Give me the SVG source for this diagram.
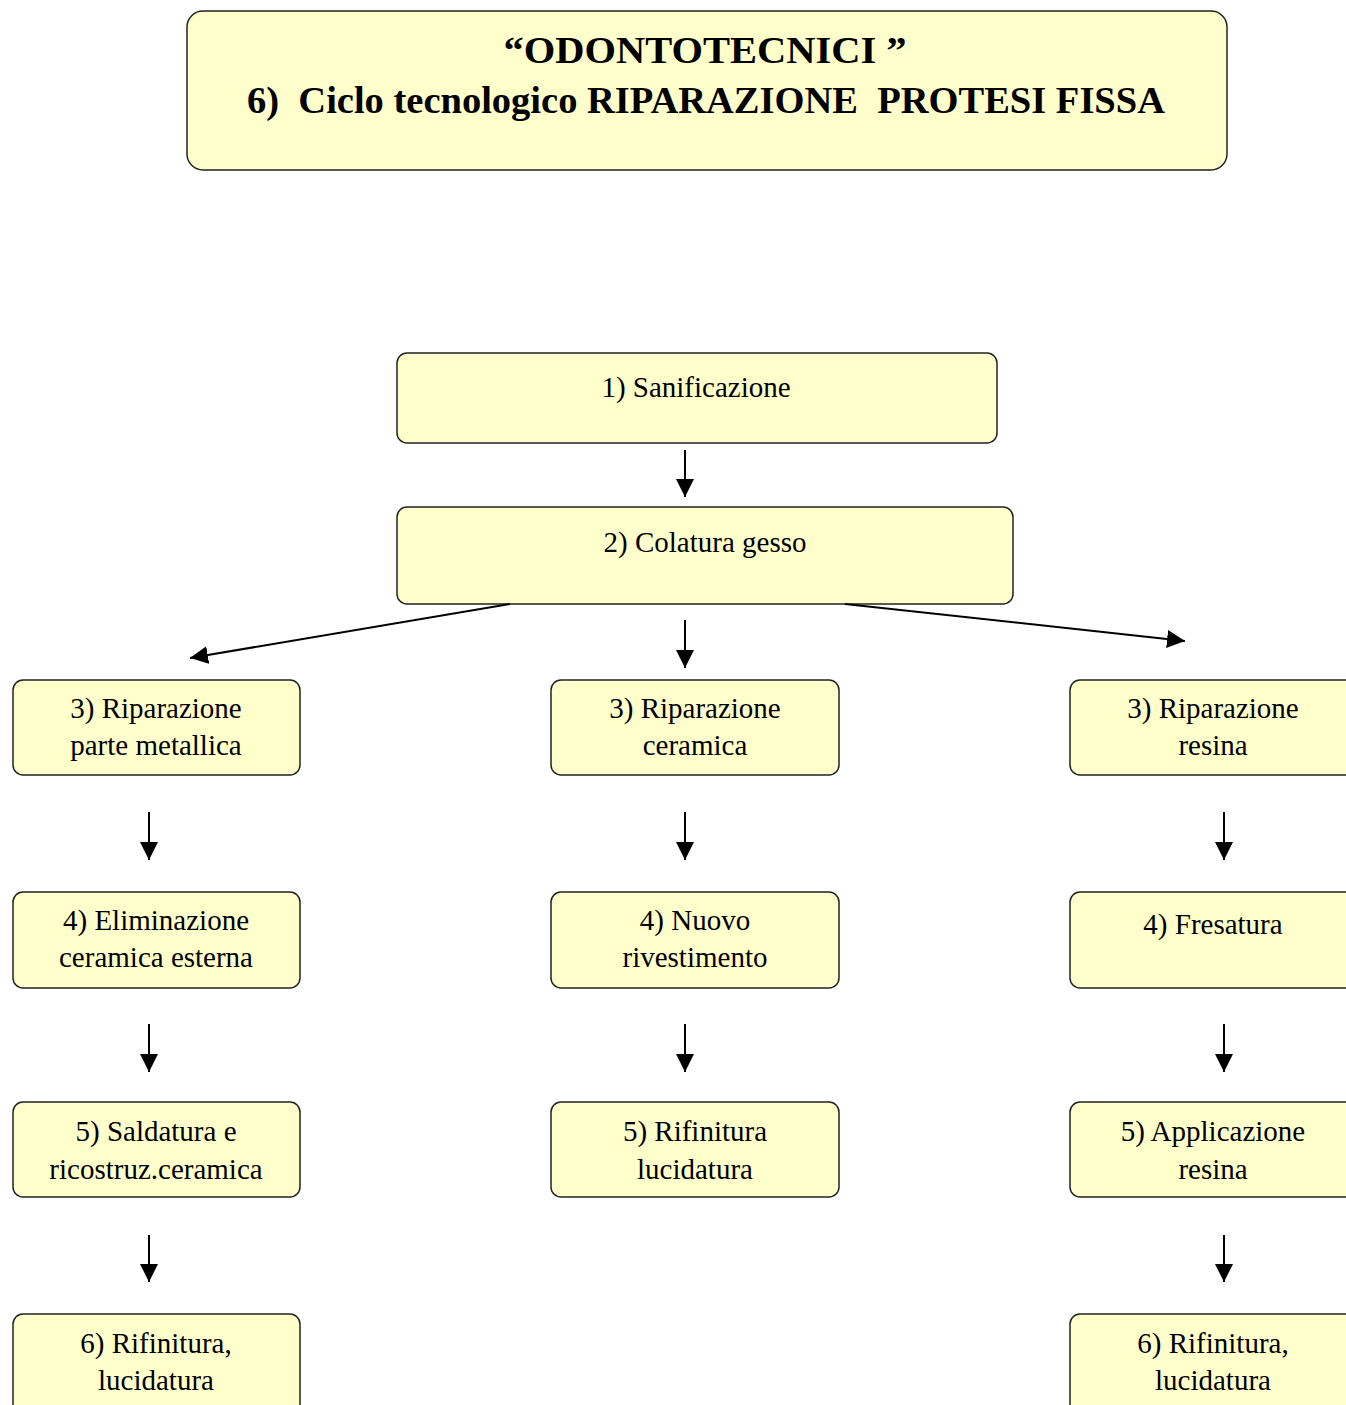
<svg xmlns="http://www.w3.org/2000/svg" width="1346" height="1405" viewBox="0 0 1346 1405">
<style>
.box{fill:#FFFFCC;stroke:#222;stroke-width:1.5}
.t{font-family:"Liberation Serif","Times New Roman",serif;font-size:29px;fill:#000;text-anchor:middle}
.h{font-family:"Liberation Serif","Times New Roman",serif;font-size:38px;font-weight:bold;fill:#000;text-anchor:middle}
.c{stroke:#000;stroke-width:2;fill:none}
</style>
<defs>
<marker id="ah2" viewBox="0 0 10 10" refX="10" refY="5" markerWidth="18" markerHeight="18" markerUnits="userSpaceOnUse" orient="auto"><path d="M0,0 L10,5 L0,10 Z" fill="#000"/></marker>
</defs>
<g id="title"><rect class="box" x="187" y="11" width="1040" height="159" rx="16"/>
<text class="h" x="705" y="63" textLength="403" lengthAdjust="spacingAndGlyphs">“ODONTOTECNICI ”</text>
<text class="h" x="706" y="113" xml:space="preserve" textLength="918" lengthAdjust="spacingAndGlyphs">6)  Ciclo tecnologico RIPARAZIONE  PROTESI FISSA</text></g>
<g id="n1"><rect class="box" x="397" y="353" width="600" height="90" rx="10"/><text class="t" x="696" y="397">1) Sanificazione</text></g>
<g id="n2"><rect class="box" x="397" y="507" width="616" height="97" rx="10"/><text class="t" x="705" y="552">2) Colatura gesso</text></g>
<g id="n3a"><rect class="box" x="13" y="680" width="287" height="95" rx="10"/><text class="t" x="156" y="718">3) Riparazione</text><text class="t" x="156" y="755">parte metallica</text></g>
<g id="n3b"><rect class="box" x="551" y="680" width="288" height="95" rx="10"/><text class="t" x="695" y="718">3) Riparazione</text><text class="t" x="695" y="755">ceramica</text></g>
<g id="n3c"><rect class="box" x="1070" y="680" width="300" height="95" rx="10"/><text class="t" x="1213" y="718">3) Riparazione</text><text class="t" x="1213" y="755">resina</text></g>
<g id="n4a"><rect class="box" x="13" y="892" width="287" height="96" rx="10"/><text class="t" x="156" y="930">4) Eliminazione</text><text class="t" x="156" y="967">ceramica esterna</text></g>
<g id="n4b"><rect class="box" x="551" y="892" width="288" height="96" rx="10"/><text class="t" x="695" y="930">4) Nuovo</text><text class="t" x="695" y="967">rivestimento</text></g>
<g id="n4c"><rect class="box" x="1070" y="892" width="300" height="96" rx="10"/><text class="t" x="1213" y="934">4) Fresatura</text></g>
<g id="n5a"><rect class="box" x="13" y="1102" width="287" height="95" rx="10"/><text class="t" x="156" y="1141">5) Saldatura e</text><text class="t" x="156" y="1179">ricostruz.ceramica</text></g>
<g id="n5b"><rect class="box" x="551" y="1102" width="288" height="95" rx="10"/><text class="t" x="695" y="1141">5) Rifinitura</text><text class="t" x="695" y="1179">lucidatura</text></g>
<g id="n5c"><rect class="box" x="1070" y="1102" width="300" height="95" rx="10"/><text class="t" x="1213" y="1141">5) Applicazione</text><text class="t" x="1213" y="1179">resina</text></g>
<g id="n6a"><rect class="box" x="13" y="1314" width="287" height="120" rx="10"/><text class="t" x="156" y="1353">6) Rifinitura,</text><text class="t" x="156" y="1390">lucidatura</text></g>
<g id="n6c"><rect class="box" x="1070" y="1314" width="300" height="120" rx="10"/><text class="t" x="1213" y="1353">6) Rifinitura,</text><text class="t" x="1213" y="1390">lucidatura</text></g>
<g id="connectors">
<line class="c" x1="685" y1="450" x2="685" y2="497" marker-end="url(#ah2)"/>
<line class="c" x1="685" y1="620" x2="685" y2="668" marker-end="url(#ah2)"/>
<line class="c" x1="510" y1="604" x2="190" y2="658" marker-end="url(#ah2)"/>
<line class="c" x1="845" y1="604" x2="1185" y2="641" marker-end="url(#ah2)"/>
<line class="c" x1="149" y1="812" x2="149" y2="860" marker-end="url(#ah2)"/>
<line class="c" x1="685" y1="812" x2="685" y2="860" marker-end="url(#ah2)"/>
<line class="c" x1="1224" y1="812" x2="1224" y2="860" marker-end="url(#ah2)"/>
<line class="c" x1="149" y1="1024" x2="149" y2="1072" marker-end="url(#ah2)"/>
<line class="c" x1="685" y1="1024" x2="685" y2="1072" marker-end="url(#ah2)"/>
<line class="c" x1="1224" y1="1024" x2="1224" y2="1072" marker-end="url(#ah2)"/>
<line class="c" x1="149" y1="1235" x2="149" y2="1282" marker-end="url(#ah2)"/>
<line class="c" x1="1224" y1="1235" x2="1224" y2="1282" marker-end="url(#ah2)"/>
</g>
</svg>
